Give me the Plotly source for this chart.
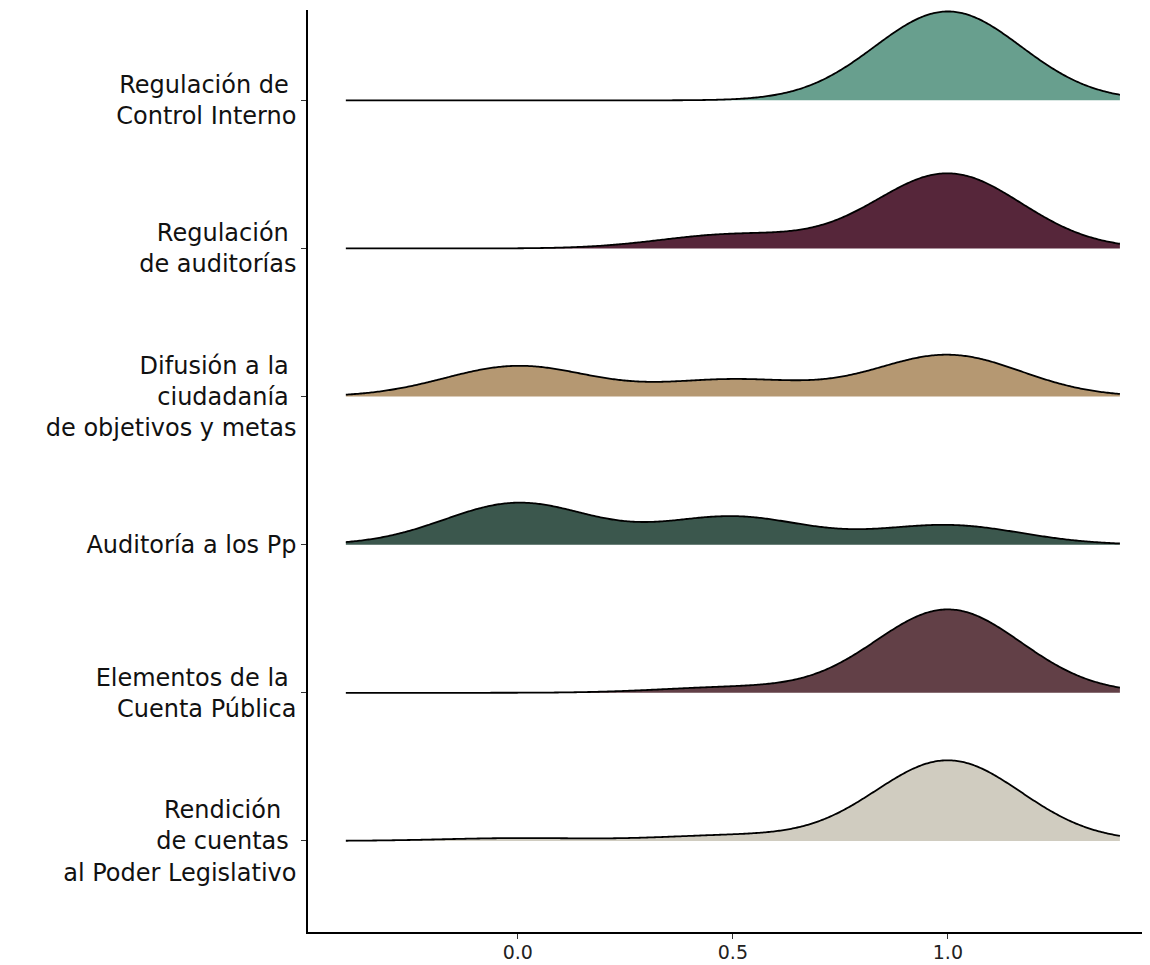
import numpy as np
import plotly.graph_objects as go

# Categories, bottom to top
categories = [
    "Rendición\u00a0\u00a0<br>de cuentas\u00a0<br>al Poder Legislativo",
    "Elementos de la\u00a0<br>Cuenta Pública",
    "Auditoría a los Pp",
    "Difusión a la\u00a0<br>ciudadanía\u00a0<br>de objetivos y metas",
    "Regulación\u00a0<br>de auditorías",
    "Regulación de\u00a0<br>Control Interno",
]
# Observed score values and the number of cases at each score per category
score_values = [0.0, 0.5, 1.0]
counts_at_0 = [1, 0, 15, 11, 0, 0]
counts_at_half = [2, 2, 10, 6, 5, 0]
counts_at_1 = [29, 30, 7, 15, 27, 32]
fill_colors = ["#d0ccc0", "#624047", "#3b574d", "#b59872", "#56263a", "#689f8e"]

x_ticks = [0.0, 0.5, 1.0]
x_tick_labels = ["0.0", "0.5", "1.0"]

# Density estimation settings (joint bandwidth, ridgeline style)
bandwidth = 0.17
grid = np.linspace(-0.4, 1.4, 512)
ridge_scale = 0.6


def kde(samples, xs, bw):
    samples = np.asarray(samples, dtype=float)
    z = (xs[:, None] - samples[None, :]) / bw
    return np.exp(-0.5 * z ** 2).sum(axis=1) / (len(samples) * bw * np.sqrt(2 * np.pi))


densities = []
for i in range(len(categories)):
    samp = ([score_values[0]] * counts_at_0[i] + [score_values[1]] * counts_at_half[i]
            + [score_values[2]] * counts_at_1[i])
    densities.append(kde(samp, grid, bandwidth))
max_dens = max(d.max() for d in densities)

fig = go.Figure()
for i in reversed(range(len(categories))):
    base = i + 1
    h = base + densities[i] / max_dens * ridge_scale
    fig.add_trace(go.Scatter(x=grid, y=np.full_like(grid, base), mode="lines",
                             line=dict(width=0, simplify=False), hoverinfo="skip", showlegend=False))
    fig.add_trace(go.Scatter(x=grid, y=h, mode="lines", fill="tonexty",
                             fillcolor=fill_colors[i],
                             line=dict(color="black", width=1.8, simplify=False),
                             hoverinfo="skip", showlegend=False))

# page body has an 8px default margin: figure is sized/offset to compensate
fig.update_layout(
    width=1142, height=957,
    margin=dict(l=300, r=0, t=2, b=33, autoexpand=False),
    paper_bgcolor="white", plot_bgcolor="white",
    showlegend=False,
)
fig.update_xaxes(
    range=[-0.488, 1.47], tickvals=x_ticks, ticktext=x_tick_labels,
    showgrid=False, zeroline=False, showline=True, linecolor="black", linewidth=1.5,
    ticks="outside", ticklen=5, tickcolor="#333333", tickwidth=1,
    ticklabelstandoff=-3,
    tickfont=dict(family="DejaVu Sans", size=19, color="#222222"),
)
fig.update_yaxes(
    range=[0.385, 6.61], tickvals=list(range(1, len(categories) + 1)), ticktext=categories,
    showgrid=False, zeroline=False, showline=True, linecolor="black", linewidth=1.5,
    ticks="outside", ticklen=5, tickcolor="#333333", tickwidth=1,
    tickfont=dict(family="DejaVu Sans", size=24, color="#111111"),
)

fig.write_html("out.html")
